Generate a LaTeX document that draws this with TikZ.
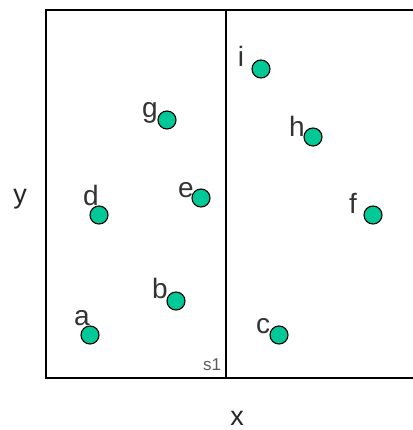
\documentclass[tikz,border=0pt]{standalone}
\usepackage{fontspec}
\setmainfont{Liberation Sans}
\usetikzlibrary{positioning}

\begin{document}
\begin{tikzpicture}[
    x=1pt, y=-1pt,
    pt/.style={circle, draw=black, line width=1.1pt, fill={rgb,255:red,0;green,200;blue,150}, minimum size=18pt, inner sep=0pt},
    lbl/.style={anchor=base, inner sep=0pt, text=black!80, font=\fontsize{28}{28}\selectfont},
    axis/.style={anchor=base, inner sep=0pt, text=black!85, font=\fontsize{27}{27}\selectfont}
]
    \useasboundingbox (0,0) rectangle (412,430);

    % frame and split line
    \coordinate (tl) at (46,10);
    \coordinate (tr) at (413,10);
    \coordinate (bl) at (46,378);
    \coordinate (br) at (413,378);
    \coordinate (st) at (226,10);
    \coordinate (sb) at (226,378);
    \draw[line width=1.1pt] (tr) -- (tl) -- (bl) -- (br);
    \draw[line width=1.1pt] (st) -- (sb);
    \node[anchor=base, inner sep=0pt, text=black!65, font=\fontsize{17}{17}\selectfont] (s1) at (212,370) {s1};

    % axis names
    \node[axis] (xname) at (237,425) {x};
    \node[axis] (yname) at (20,203) {y};

    % points
    \node[pt] (a) at (90,335) {};
    \node[pt] (b) at (176,301) {};
    \node[pt] (c) at (279,335) {};
    \node[pt] (d) at (99,215) {};
    \node[pt] (e) at (201,198) {};
    \node[pt] (f) at (373,215) {};
    \node[pt] (g) at (167,120) {};
    \node[pt] (h) at (313,137) {};
    \node[pt] (i) at (261,69) {};

    % point names
    \node[lbl] (a_name) at (82,325) {a};
    \node[lbl] (b_name) at (160,298) {b};
    \node[lbl] (c_name) at (263,333) {c};
    \node[lbl] (d_name) at (91,205) {d};
    \node[lbl] (e_name) at (186,197) {e};
    \node[lbl] (f_name) at (353,213) {f};
    \node[lbl] (g_name) at (150,118) {g};
    \node[lbl] (h_name) at (297,137) {h};
    \node[lbl] (i_name) at (241,67) {i};
\end{tikzpicture}
\end{document}
